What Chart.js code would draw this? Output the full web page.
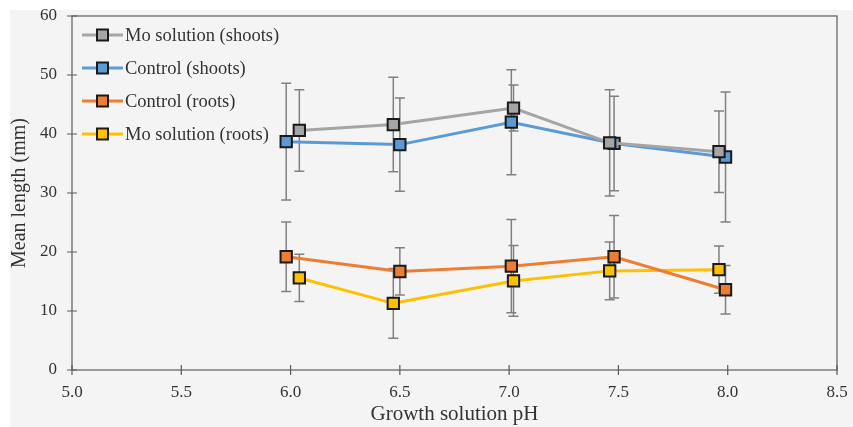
<!DOCTYPE html>
<html lang="en">
<head>
    <meta charset="UTF-8">
    <title>Mean length vs growth solution pH</title>
    <script src="https://cdn.jsdelivr.net/npm/chart.js@4/dist/chart.umd.min.js"></script>
    <style>
        html, body {
            margin: 0;
            padding: 0;
            background: #ffffff;
            overflow: hidden;
        }
        #wrap {
            width: 853px;
            height: 427px;
        }
    </style>
</head>
<body>
    <div id="wrap"><canvas id="chart"></canvas></div>

    <script>
        // pH positions (series are slightly offset in the original plot)
        const xMoShoots = [6.04, 6.47, 7.02, 7.46, 7.96];
        const xCtrl = [5.98, 6.50, 7.01, 7.48, 7.99];
        const xMoRoots = [6.04, 6.47, 7.02, 7.46, 7.96];

        const moShoots = [40.6, 41.6, 44.4, 38.5, 37.0];
        const moShootsErr = [6.9, 8.0, 3.9, 9.0, 6.9];
        const ctrlShoots = [38.7, 38.2, 42.0, 38.4, 36.1];
        const ctrlShootsErr = [9.9, 7.9, 8.9, 8.0, 11.0];
        const ctrlRoots = [19.2, 16.7, 17.6, 19.2, 13.6];
        const ctrlRootsErr = [5.9, 4.0, 7.9, 7.0, 4.1];
        const moRoots = [15.6, 11.3, 15.1, 16.8, 17.0];
        const moRootsErr = [4.0, 5.9, 6.0, 4.9, 4.0];

        const xTicks = [5.0, 5.5, 6.0, 6.5, 7.0, 7.5, 8.0, 8.5];
        const yTicks = [0, 10, 20, 30, 40, 50, 60];

        const serif = '"Liberation Serif", "Times New Roman", serif';
        const textColor = '#333333';
        const axisColor = '#5a5a5a';

        function points(xs, ys) {
            return xs.map((x, i) => ({ x: x, y: ys[i] }));
        }

        function series(label, xs, ys, errs, color) {
            return {
                label: label,
                data: points(xs, ys),
                errors: errs,
                borderColor: color,
                backgroundColor: color,
                borderWidth: 3,
                pointStyle: 'rect',
                pointRadius: 8,
                pointHoverRadius: 8,
                pointBackgroundColor: color,
                pointBorderColor: '#1a1a1a',
                pointBorderWidth: 2,
                tension: 0
            };
        }

        // light grey panel behind everything
        const panel = {
            id: 'panel',
            beforeDraw(chart) {
                const ctx = chart.ctx;
                ctx.save();
                ctx.fillStyle = '#f4f4f4';
                ctx.fillRect(10, 10, chart.width - 10, chart.height - 10);
                ctx.restore();
            }
        };

        // vertical error bars, drawn under the lines and markers
        const errorBars = {
            id: 'errorBars',
            beforeDatasetsDraw(chart) {
                const ctx = chart.ctx;
                const ys = chart.scales.y;
                const xs = chart.scales.x;
                ctx.save();
                ctx.strokeStyle = '#808080';
                ctx.lineWidth = 1.5;
                chart.data.datasets.forEach(ds => {
                    ds.data.forEach((p, i) => {
                        const px = xs.getPixelForValue(p.x);
                        const top = ys.getPixelForValue(p.y + ds.errors[i]);
                        const bot = ys.getPixelForValue(p.y - ds.errors[i]);
                        ctx.beginPath();
                        ctx.moveTo(px, top);
                        ctx.lineTo(px, bot);
                        ctx.moveTo(px - 5, top);
                        ctx.lineTo(px + 5, top);
                        ctx.moveTo(px - 5, bot);
                        ctx.lineTo(px + 5, bot);
                        ctx.stroke();
                    });
                });
                ctx.restore();
            }
        };

        // frame round the plot area and tick marks crossing the axes
        const frame = {
            id: 'frame',
            afterDraw(chart) {
                const ctx = chart.ctx;
                const a = chart.chartArea;
                const xs = chart.scales.x;
                const ys = chart.scales.y;
                ctx.save();
                ctx.strokeStyle = axisColor;
                ctx.lineWidth = 1.2;
                ctx.strokeRect(a.left, a.top, a.right - a.left, a.bottom - a.top);
                ctx.beginPath();
                xTicks.forEach(v => {
                    const px = xs.getPixelForValue(v);
                    ctx.moveTo(px, a.bottom - 5);
                    ctx.lineTo(px, a.bottom + 5);
                });
                yTicks.forEach(v => {
                    const py = ys.getPixelForValue(v);
                    ctx.moveTo(a.left - 5, py);
                    ctx.lineTo(a.left + 5, py);
                });
                ctx.stroke();
                ctx.restore();
            }
        };

        // legend inside the plot, top left, with line + marker samples
        const insideLegend = {
            id: 'insideLegend',
            afterDraw(chart) {
                const ctx = chart.ctx;
                const a = chart.chartArea;
                ctx.save();
                ctx.font = '18.5px ' + serif;
                ctx.textBaseline = 'middle';
                ctx.textAlign = 'left';
                chart.data.datasets.forEach((ds, i) => {
                    const y = a.top + 19 + i * 33;
                    const x0 = a.left + 10;
                    ctx.strokeStyle = ds.borderColor;
                    ctx.lineWidth = 3;
                    ctx.beginPath();
                    ctx.moveTo(x0, y);
                    ctx.lineTo(x0 + 41, y);
                    ctx.stroke();
                    ctx.fillStyle = ds.backgroundColor;
                    ctx.fillRect(x0 + 15, y - 5.5, 11, 11);
                    ctx.strokeStyle = '#1a1a1a';
                    ctx.lineWidth = 2;
                    ctx.strokeRect(x0 + 15, y - 5.5, 11, 11);
                    ctx.fillStyle = textColor;
                    ctx.fillText(ds.label, x0 + 43, y + 1);
                });
                ctx.restore();
            }
        };

        const ctx = document.getElementById('chart').getContext('2d');
        new Chart(ctx, {
            type: 'line',
            data: {
                datasets: [
                    series('Mo solution (shoots)', xMoShoots, moShoots, moShootsErr, '#a5a5a5'),
                    series('Control (shoots)', xCtrl, ctrlShoots, ctrlShootsErr, '#5b9bd5'),
                    series('Control (roots)', xCtrl, ctrlRoots, ctrlRootsErr, '#ed7d31'),
                    series('Mo solution (roots)', xMoRoots, moRoots, moRootsErr, '#ffc000')
                ]
            },
            options: {
                responsive: true,
                maintainAspectRatio: false,
                animation: false,
                layout: {
                    padding: { top: 16, right: 16, left: 0, bottom: 0 }
                },
                plugins: {
                    legend: { display: false },
                    tooltip: { enabled: false }
                },
                scales: {
                    x: {
                        type: 'linear',
                        min: 5.0,
                        max: 8.5,
                        afterBuildTicks: scale => {
                            scale.ticks = xTicks.map(v => ({ value: v }));
                        },
                        afterFit: scale => {
                            scale.height = 57;
                            scale.paddingLeft = 0;
                            scale.paddingRight = 0;
                        },
                        grid: { display: false, drawTicks: false },
                        border: { display: false },
                        ticks: {
                            padding: 12,
                            color: textColor,
                            font: { family: serif, size: 17 },
                            callback: v => v.toFixed(1)
                        },
                        title: {
                            display: true,
                            text: 'Growth solution pH',
                            color: textColor,
                            font: { family: serif, size: 21 },
                            padding: { top: 0, bottom: 0 }
                        }
                    },
                    y: {
                        min: 0,
                        max: 60,
                        afterBuildTicks: scale => {
                            scale.ticks = yTicks.map(v => ({ value: v }));
                        },
                        afterFit: scale => {
                            scale.width = 72;
                            scale.paddingTop = 0;
                            scale.paddingBottom = 0;
                        },
                        grid: { display: false, drawTicks: false },
                        border: { display: false },
                        ticks: {
                            padding: 15,
                            color: textColor,
                            font: { family: serif, size: 17 }
                        },
                        title: {
                            display: true,
                            text: 'Mean length (mm)',
                            color: textColor,
                            font: { family: serif, size: 20 },
                            padding: { top: 8, bottom: 0 }
                        }
                    }
                }
            },
            plugins: [panel, errorBars, frame, insideLegend]
        });
    </script>
</body>
</html>
